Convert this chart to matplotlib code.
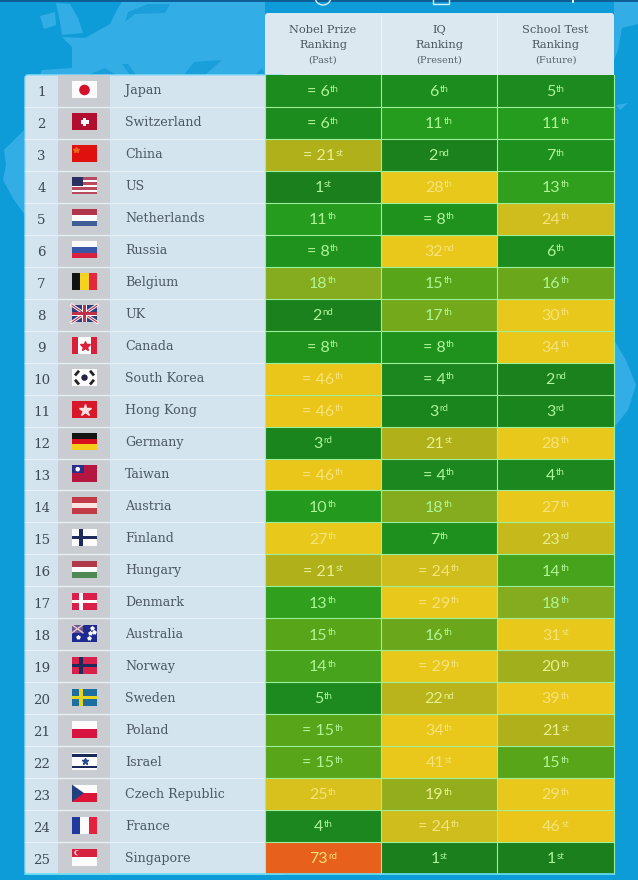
import re

from matplotlib import pyplot as plt
from matplotlib.colors import LinearSegmentedColormap
from matplotlib.patches import Circle, FancyBboxPatch, Polygon, Rectangle
import numpy as np

countries = ['Japan', 'Switzerland', 'China', 'US', 'Netherlands', 'Russia', 'Belgium', 'UK', 'Canada',
             'South Korea', 'Hong Kong', 'Germany', 'Taiwan', 'Austria', 'Finland', 'Hungary', 'Denmark',
             'Australia', 'Norway', 'Sweden', 'Poland', 'Israel', 'Czech Republic', 'France', 'Singapore']

nobel = ['= 6th', '= 6th', '= 21st', '1st', '11th', '= 8th', '18th', '2nd', '= 8th', '= 46th', '= 46th', '3rd',
         '= 46th', '10th', '27th', '= 21st', '13th', '15th', '14th', '5th', '= 15th', '= 15th', '25th', '4th', '73rd']
iq = ['6th', '11th', '2nd', '28th', '= 8th', '32nd', '15th', '17th', '= 8th', '= 4th', '3rd', '21st',
      '= 4th', '18th', '7th', '= 24th', '= 29th', '16th', '= 29th', '22nd', '34th', '41st', '19th', '= 24th', '1st']
school = ['5th', '11th', '7th', '13th', '24th', '6th', '16th', '30th', '34th', '2nd', '3rd', '28th',
          '4th', '27th', '23rd', '14th', '18th', '31st', '20th', '39th', '21st', '15th', '29th', '46st', '1st']

headers = [('Nobel Prize', 'Ranking', '(Past)'), ('IQ', 'Ranking', '(Present)'), ('School Test', 'Ranking', '(Future)')]

# rank -> cell colour
scale_ranks = [1, 6, 11, 13, 15, 18, 21, 24, 27, 46, 60, 73]
scale_colours = ['#1b7f1d', '#1c8d1e', '#259c1e', '#329f1e', '#5da51a', '#85ac1e', '#afb01a', '#cfbe1c',
                 '#e9c81c', '#eac71a', '#ea9a1c', '#e8611c']

RED, WHITE, BLUE, NAVY = '#d0103a', '#fbfbfb', '#24408f', '#1d2a5c'
SEA, LAND = '#0e9cd8', '#33ade5'

# horizontal / vertical tricolours and the like
stripes = {'Netherlands': ('h', ['#b0344a', WHITE, '#3f5f96']),
           'Russia': ('h', [WHITE, '#3a55a5', '#d9203f']),
           'Belgium': ('v', ['#111111', '#f4d21f', '#e2283a']),
           'Germany': ('h', ['#141414', '#d6101c', '#f6cc1a']),
           'Austria': ('h', ['#c23a45', '#fbe5e3', '#c23a45']),
           'Hungary': ('h', ['#b03a4a', WHITE, '#4f8a55']),
           'Poland': ('h', [WHITE, '#d6143f']),
           'France': ('v', ['#1f3a9a', WHITE, '#e6203f']),
           'Singapore': ('h', ['#d8203f', WHITE])}

# nordic crosses: field, cross
crosses = {'Finland': (WHITE, NAVY), 'Denmark': ('#d8204a', WHITE), 'Norway': ('#d8204a', NAVY),
           'Sweden': ('#1d6f9f', '#e6d41f')}

# rough coastlines behind the table
land_shapes = [[(62, 37), (85, 38), (110, 24), (118, 8), (122, 2), (265, 2), (265, 75), (40, 75), (42, 70), (72, 68), (72, 47)],
               [(56, 3), (70, 4), (78, 18), (83, 33), (62, 35), (60, 22)],
               [(40, 16), (55, 12), (56, 25), (44, 29)],
               [(4, 150), (24, 130), (25, 215), (14, 200), (3, 180), (6, 165)],
               [(614, 2), (638, 2), (638, 24), (622, 28), (618, 50), (614, 60)],
               [(616, 105), (628, 103), (620, 110)],
               [(614, 340), (626, 360), (636, 385), (628, 410), (616, 425), (614, 425)]]
sea_shapes = [[(125, 22), (135, 14), (165, 13), (170, 4), (148, 4), (128, 12)],
              [(88, 75), (105, 68), (116, 75)], [(122, 64), (128, 64), (136, 75), (130, 75)],
              [(184, 75), (194, 62), (222, 60), (205, 75)], [(255, 75), (262, 68), (265, 75)]]


def rank_colour(label: str):
    rank = int(re.search(r'\d+', label).group())
    pos = (np.array(scale_ranks) - 1) / 72
    cmap = LinearSegmentedColormap.from_list('rank', list(zip(pos, scale_colours)))
    return cmap((rank - 1) / 72)


def text_colour(label: str):
    rank = int(re.search(r'\d+', label).group())
    if rank < 19:
        return '#aef596'
    if rank < 24:
        return '#e6f08c'
    return '#f5e27a'


def rect(ax, x, y, w, h, colour, z=5):
    ax.add_patch(Rectangle((x, y), w, h, facecolor=colour, edgecolor='none', zorder=z))


def draw_flag(ax, name, cy):
    x, w, h = 72, 25, 17
    y = cy - h / 2
    if name in stripes:
        way, cols = stripes[name]
        for i, c in enumerate(cols):
            if way == 'h':
                rect(ax, x, y + i * h / len(cols), w, h / len(cols), c)
            else:
                rect(ax, x + i * w / len(cols), y, w / len(cols), h, c)
        if name == 'Singapore':
            ax.add_patch(Circle((x + 5, y + 4.2), 2.6, facecolor=WHITE, edgecolor='none', zorder=6))
            ax.add_patch(Circle((x + 6, y + 4.2), 2.2, facecolor='#d8203f', edgecolor='none', zorder=7))
    elif name in crosses:
        field, cross = crosses[name]
        rect(ax, x, y, w, h, field)
        rect(ax, x + 7, y, 3.5, h, cross, 6)
        rect(ax, x, cy - 1.7, w, 3.4, cross, 6)
    elif name == 'Japan':
        rect(ax, x, y, w, h, WHITE)
        ax.add_patch(Circle((x + w / 2, cy), 5.3, facecolor='#d3112c', edgecolor='none', zorder=6))
    elif name == 'Switzerland':
        rect(ax, x, y, w, h, '#b20e30')
        rect(ax, x + 10.7, cy - 4, 3.6, 8, WHITE, 6)
        rect(ax, x + 8.5, cy - 1.8, 8, 3.6, WHITE, 6)
    elif name == 'China':
        rect(ax, x, y, w, h, '#e0100f')
        ax.plot([x + 4], [y + 5], marker='*', ms=4, color='#e86a1c', zorder=6)
    elif name == 'US':
        for i in range(7):
            rect(ax, x, y + i * h / 7, w, h / 7, '#b84a5e' if i % 2 == 0 else WHITE)
        rect(ax, x, y, 11, 8.5, '#2a2f5f', 6)
    elif name == 'UK':
        rect(ax, x, y, w, h, '#2f3f80')
        ax.plot([x, x + w], [y, y + h], color=WHITE, lw=2.2, zorder=6)
        ax.plot([x, x + w], [y + h, y], color=WHITE, lw=2.2, zorder=6)
        ax.plot([x, x + w], [y, y + h], color='#c0304a', lw=0.8, zorder=6)
        ax.plot([x, x + w], [y + h, y], color='#c0304a', lw=0.8, zorder=6)
        rect(ax, x + 10.3, y, 4.4, h, WHITE, 7)
        rect(ax, x, cy - 2.2, w, 4.4, WHITE, 7)
        rect(ax, x + 11.2, y, 2.6, h, '#c0304a', 8)
        rect(ax, x, cy - 1.3, w, 2.6, '#c0304a', 8)
    elif name == 'Canada':
        rect(ax, x, y, w, h, WHITE)
        rect(ax, x, y, 6.3, h, '#d8203a', 6)
        rect(ax, x + w - 6.3, y, 6.3, h, '#d8203a', 6)
        ax.plot([x + w / 2], [cy], marker='*', ms=7, color='#d8203a', zorder=6)
    elif name == 'South Korea':
        rect(ax, x, y, w, h, WHITE)
        ax.add_patch(Circle((x + w / 2, cy), 3.2, facecolor='#23233f', edgecolor='none', zorder=6))
        for dx, dy in [(-7.5, -4.5), (7.5, -4.5), (-7.5, 4.5), (7.5, 4.5)]:
            s = -np.sign(dx * dy)
            ax.plot([x + w / 2 + dx - 1.1, x + w / 2 + dx + 1.1], [cy + dy - s * 1.3, cy + dy + s * 1.3],
                    color='#222222', lw=2, zorder=6)
    elif name == 'Hong Kong':
        rect(ax, x, y, w, h, '#d8182a')
        ax.plot([x + w / 2], [cy], marker='*', ms=9, color='#fbe0e0', zorder=6)
    elif name == 'Taiwan':
        rect(ax, x, y, w, h, '#b5163f')
        rect(ax, x, y, 11.5, 8.5, '#2b2f8c', 6)
        ax.add_patch(Circle((x + 5.7, y + 4.2), 2.3, facecolor=WHITE, edgecolor='none', zorder=7))
    elif name == 'Australia':
        rect(ax, x, y, w, h, '#1d2a8f')
        rect(ax, x, y, 11, 8, '#6a5a90', 6)
        ax.plot([x, x + 11], [y, y + 8], color='#e8c8d0', lw=1, zorder=7)
        ax.plot([x, x + 11], [y + 8, y], color='#e8c8d0', lw=1, zorder=7)
        ax.plot([x + 5.5, x + 17, x + 20, x + 18, x + 22], [y + 12.5, y + 13, y + 3, y + 8, y + 7], ls='none',
                marker='*', ms=2.8, color=WHITE, zorder=7)
    elif name == 'Israel':
        rect(ax, x, y, w, h, WHITE)
        rect(ax, x, y + 1.5, w, 2.6, '#1a2a58', 6)
        rect(ax, x, y + h - 4.1, w, 2.6, '#1a2a58', 6)
        ax.plot([x + w / 2], [cy], marker='*', ms=5, color='#2a4a90', zorder=6)
    elif name == 'Czech Republic':
        rect(ax, x, y, w, h / 2, WHITE)
        rect(ax, x, cy, w, h / 2, '#dd1538')
        ax.add_patch(Polygon([(x, y), (x + 12, cy), (x, y + h)], facecolor='#22407f', edgecolor='none', zorder=6))


def rank_text(ax, renderer, cx, cy, label, colour):
    m = re.match(r'(= ?\d+|\d+)(\w+)', label)
    main = ax.text(cx, cy + 5.2, m.group(1), ha='left', va='baseline', family='Lato',
                   fontsize=11.5, color=colour, zorder=5)
    sup = ax.text(cx, cy + 0.6, m.group(2), ha='left', va='baseline', family='Lato',
                  fontsize=7, color=colour, zorder=5)
    w1 = main.get_window_extent(renderer).width
    w2 = sup.get_window_extent(renderer).width
    left = cx - (w1 + w2 + 0.5) / 2
    main.set_x(left)
    sup.set_x(left + w1 + 0.5)


fig = plt.figure(figsize=(6.38, 8.8), dpi=100)
ax = fig.add_axes([0, 0, 1, 1])
ax.set_xlim(0, 638)
ax.set_ylim(880, 0)
ax.set_axis_off()
renderer = fig.canvas.get_renderer()

# background
rect(ax, 0, 0, 638, 880, SEA, 0)
for shape in land_shapes:
    ax.add_patch(Polygon(shape, facecolor=LAND, edgecolor='none', zorder=1))
for shape in sea_shapes:
    ax.add_patch(Polygon(shape, facecolor='#1a9fdb', edgecolor='none', zorder=1))
rect(ax, 0, 0, 638, 2, '#0f5f96', 1)
# icons cut off by the top of the picture
ax.add_patch(Circle((323, -3), 8, facecolor='none', edgecolor='#d8eef8', lw=1, zorder=2))
ax.add_patch(Rectangle((433, -4), 16, 8, facecolor='none', edgecolor='#d8eef8', lw=1, zorder=2))
rect(ax, 572, 0, 2, 3, '#e8f4fa', 2)

# header and left panel
x_edges = [265, 381, 497, 614]
row_top = 75
row_h = 799 / 25
ax.add_patch(FancyBboxPatch((265, 13), 349, 70, boxstyle='round,pad=0,rounding_size=3', facecolor='#dce8f0',
                            edgecolor='none', zorder=2))
ax.add_patch(FancyBboxPatch((25, 75), 260, 799, boxstyle='round,pad=0,rounding_size=3', facecolor='#d3e4ef',
                            edgecolor='#8fdcf5', lw=1, zorder=2))
rect(ax, 58, 75, 52, 799, '#c9cdd1', 3)

serif = 'DejaVu Serif'
for j, head in enumerate(headers):
    cx = (x_edges[j] + x_edges[j + 1]) / 2
    if j > 0:
        ax.plot([x_edges[j]] * 2, [15, 75], color='#edf3f7', lw=0.8, zorder=3)
    ax.text(cx, 30, head[0], ha='center', va='center', family=serif, fontsize=8.2, color='#4a5660', zorder=4)
    ax.text(cx, 45, head[1], ha='center', va='center', family=serif, fontsize=8.2, color='#4a5660', zorder=4)
    ax.text(cx, 60.5, head[2], ha='center', va='center', family=serif, fontsize=7, color='#56626c', zorder=4)

columns = [nobel, iq, school]
for i, name in enumerate(countries):
    top = row_top + i * row_h
    cy = top + row_h / 2
    if i > 0:
        ax.plot([25, 265], [top, top], color='#e6f0f6', lw=0.9, zorder=4)
    ax.text(41.5, cy + 2, str(i + 1), ha='center', va='center', family=serif, fontsize=9.6, color='#3f4a55', zorder=5)
    ax.text(125, cy, name, ha='left', va='center', family=serif, fontsize=9.1, color='#4c5864', zorder=5)
    draw_flag(ax, name, cy - 1)
    for j, col in enumerate(columns):
        rect(ax, x_edges[j], top, x_edges[j + 1] - x_edges[j], row_h, rank_colour(col[i]), 3)
        rank_text(ax, renderer, (x_edges[j] + x_edges[j + 1]) / 2, cy, col[i], text_colour(col[i]))

# cell grid
for i in range(1, 25):
    ax.plot([265, 614], [row_top + i * row_h] * 2, color='#9df09a', lw=0.8, zorder=4)
for x in x_edges:
    ax.plot([x, x], [75, 874], color='#9df09a', lw=0.8, zorder=4)
ax.plot([25, 614], [874, 874], color='#6fe0f0', lw=1.2, zorder=4)

fig.savefig('out.png', dpi=100)
